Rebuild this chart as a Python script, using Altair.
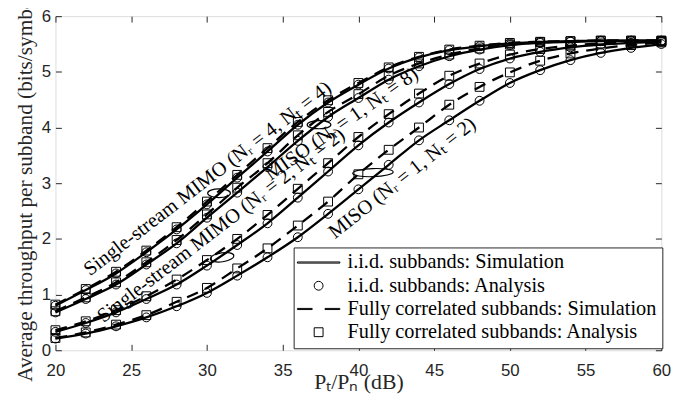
import altair as alt
import pandas as pd

# ---------------- data ----------------
snr_db = list(range(20, 61, 2))

mimo44_iid = [0.80, 1.08, 1.38, 1.76, 2.17, 2.62, 3.10, 3.57, 4.05, 4.45, 4.77,
              5.06, 5.26, 5.39, 5.46, 5.51, 5.54, 5.55, 5.56, 5.56, 5.56]
mimo44_cor = [0.82, 1.10, 1.41, 1.79, 2.21, 2.67, 3.15, 3.63, 4.10, 4.49, 4.80,
              5.08, 5.27, 5.40, 5.47, 5.52, 5.54, 5.55, 5.56, 5.56, 5.56]
miso18_iid = [0.68, 0.92, 1.18, 1.54, 1.92, 2.38, 2.83, 3.29, 3.76, 4.19, 4.53,
              4.86, 5.10, 5.28, 5.40, 5.48, 5.52, 5.54, 5.55, 5.56, 5.56]
miso18_cor = [0.70, 0.95, 1.22, 1.58, 1.98, 2.44, 2.92, 3.36, 3.86, 4.28, 4.60,
              4.93, 5.15, 5.31, 5.42, 5.49, 5.53, 5.55, 5.56, 5.56, 5.56]
mimo22_iid = [0.33, 0.49, 0.68, 0.92, 1.18, 1.52, 1.89, 2.28, 2.74, 3.21, 3.68,
              4.09, 4.45, 4.78, 5.05, 5.24, 5.36, 5.44, 5.49, 5.52, 5.54]
mimo22_cor = [0.36, 0.52, 0.72, 0.97, 1.27, 1.62, 2.00, 2.43, 2.90, 3.36, 3.83,
              4.24, 4.61, 4.93, 5.15, 5.31, 5.41, 5.47, 5.51, 5.53, 5.55]
miso12_iid = [0.21, 0.30, 0.43, 0.59, 0.79, 1.03, 1.34, 1.67, 2.03, 2.45, 2.89,
              3.33, 3.77, 4.13, 4.48, 4.80, 5.03, 5.21, 5.34, 5.43, 5.50]
miso12_cor = [0.22, 0.32, 0.46, 0.63, 0.87, 1.12, 1.47, 1.83, 2.24, 2.67, 3.16,
              3.60, 4.00, 4.41, 4.73, 4.99, 5.20, 5.33, 5.42, 5.48, 5.53]

legend_labels = ["i.i.d. subbands: Simulation", "i.i.d. subbands: Analysis",
                 "Fully correlated subbands: Simulation", "Fully correlated subbands: Analysis"]

curve_labels = ["Single-stream MIMO (Nᵣ = 4, Nₜ = 4)", "MISO (Nᵣ = 1, Nₜ = 8)",
                "Single-stream MIMO (Nᵣ = 2, Nₜ = 2)", "MISO (Nᵣ = 1, Nₜ = 2)"]
label_x = [30.05, 38.9, 30.94, 42.9]
label_y = [3.08, 4.06, 2.24, 3.09]
label_angle = [322.5, 325, 322.5, 321.5]

ellipse_x = [30.8, 37.4, 31.0, 40.96]
ellipse_y = [2.82, 4.05, 1.67, 3.19]

x_ticks = [20, 25, 30, 35, 40, 45, 50, 55, 60]
y_ticks = [0, 1, 2, 3, 4, 5, 6]

# ---------------- tables ----------------
series = {
    ("mimo44", "iid"): mimo44_iid, ("mimo44", "cor"): mimo44_cor,
    ("miso18", "iid"): miso18_iid, ("miso18", "cor"): miso18_cor,
    ("mimo22", "iid"): mimo22_iid, ("mimo22", "cor"): mimo22_cor,
    ("miso12", "iid"): miso12_iid, ("miso12", "cor"): miso12_cor,
}
rows = []
for (cfg, sub), vals in series.items():
    for s, v in zip(snr_db, vals):
        rows.append({"snr": s, "thr": v, "cfg": cfg + "_" + sub, "sub": sub,
                     "leg": legend_labels[1] if sub == "iid" else legend_labels[3]})
df = pd.DataFrame(rows)
labels_df = pd.DataFrame({"x": label_x, "y": label_y, "t": curve_labels})

AX = "#262626"
SERIF = "Liberation Serif"
SANS = "Liberation Sans"

xs = alt.Scale(domain=[20, 60], nice=False, zero=False)
ys = alt.Scale(domain=[0, 6], nice=False, zero=False)

x_bottom = alt.Axis(orient="bottom", values=x_ticks, format="d", tickSize=6, offset=-6,
                    domain=False, grid=False, labelFlush=False, labelOverlap=False,
                    labelFont=SANS, labelFontSize=17, labelColor=AX, labelPadding=13,
                    tickColor=AX, title="Pₜ/Pₙ (dB)", titleFont=SERIF, titleFontSize=22,
                    titleFontWeight="normal", titleColor=AX, titleY=45,
                    titleBaseline="alphabetic")
y_left = alt.Axis(orient="left", values=y_ticks, format="d", tickSize=6, offset=-6,
                  domain=False, grid=False, labelFlush=False, labelOverlap=False,
                  labelFont=SANS, labelFontSize=17, labelColor=AX, labelPadding=5,
                  tickColor=AX, title="Average throughput per subband (bits/symbol)",
                  titleFont=SERIF, titleFontSize=21.5, titleFontWeight="normal",
                  titleColor=AX, titlePadding=5)
x_top = alt.Axis(orient="top", values=x_ticks, tickSize=6, offset=-6, domain=False,
                 grid=False, labels=False, tickColor=AX, title=None)
y_right = alt.Axis(orient="right", values=y_ticks, tickSize=6, offset=-6, domain=False,
                   grid=False, labels=False, tickColor=AX, title=None)

base = alt.Chart(df)

iid_lines = base.transform_filter(alt.datum.sub == "iid").mark_line(
    interpolate="monotone", color="black", strokeWidth=2.3
).encode(
    x=alt.X("snr:Q", scale=xs, axis=x_bottom),
    y=alt.Y("thr:Q", scale=ys, axis=y_left),
    detail="cfg:N",
)
cor_lines = base.transform_filter(alt.datum.sub == "cor").mark_line(
    interpolate="monotone", color="black", strokeWidth=2.3, strokeDash=[12, 8]
).encode(
    x=alt.X("snr:Q", scale=xs, axis=x_top),
    y=alt.Y("thr:Q", scale=ys, axis=y_right),
    detail="cfg:N",
)

LINE_SYM = "M-4.8,-0.13H4.8V0.13H-4.8Z"
DASH_SYM = "M-4.8,-0.13H-1.45V0.13H-4.8ZM1.45,-0.13H4.8V0.13H1.45Z"

points = base.mark_point(filled=False, color="black", opacity=1, size=80, strokeWidth=1).encode(
    x=alt.X("snr:Q", scale=xs, axis=None),
    y=alt.Y("thr:Q", scale=ys, axis=None),
    shape=alt.Shape(
        "leg:N",
        scale=alt.Scale(domain=legend_labels, range=[LINE_SYM, "circle", DASH_SYM, "square"]),
        legend=alt.Legend(
            title=None, orient="none", legendX=241, legendY=234, direction="vertical",
            fillColor="white", strokeColor=AX, padding=5, labelFont=SERIF, labelFontSize=20.5,
            labelColor="black", symbolStrokeColor="black", symbolStrokeWidth=1,
            symbolFillColor="transparent", symbolSize=80, symbolOffset=10, labelOffset=19,
            rowPadding=2.5, labelLimit=500,
        ),
    ),
)


def ellipse_path(k):
    c = 0.5523
    return (f"M-1,0C-1,{-k*c:.4f} {-c},{-k} 0,{-k}C{c},{-k} 1,{-k*c:.4f} 1,0"
            f"C1,{k*c:.4f} {c},{k} 0,{k}C{-c},{k} -1,{k*c:.4f} -1,0Z")


ellipse_style = [(0.38, 23, 0), (0.34, 24, 0), (0.38, 24, 352), (0.2, 41, 358)]
ellipses = []
for i, (k, w, ang) in enumerate(ellipse_style):
    edf = pd.DataFrame({"x": [ellipse_x[i]], "y": [ellipse_y[i]]})
    ellipses.append(
        alt.Chart(edf).mark_point(shape=ellipse_path(k), size=w * w, angle=ang, filled=False,
                                  color="black", opacity=1, strokeWidth=1.2).encode(
            x=alt.X("x:Q", scale=xs, axis=None), y=alt.Y("y:Q", scale=ys, axis=None))
    )

texts = []
for i in range(len(curve_labels)):
    texts.append(
        alt.Chart(labels_df.iloc[[i]]).mark_text(
            font=SERIF, fontSize=20.5, color="black", angle=label_angle[i]
        ).encode(x=alt.X("x:Q", scale=xs, axis=None), y=alt.Y("y:Q", scale=ys, axis=None),
                 text="t:N")
    )

chart = alt.layer(iid_lines, cor_lines, points, *ellipses, *texts).properties(
    width=613, height=338,
    autosize=alt.AutoSizeParams(type="none"),
    padding={"left": 48, "top": 6, "right": 30, "bottom": 42},
).configure_view(stroke=AX, strokeWidth=1).configure(background="white")

chart.save("out.html", embed_options={"renderer": "svg", "actions": False})
